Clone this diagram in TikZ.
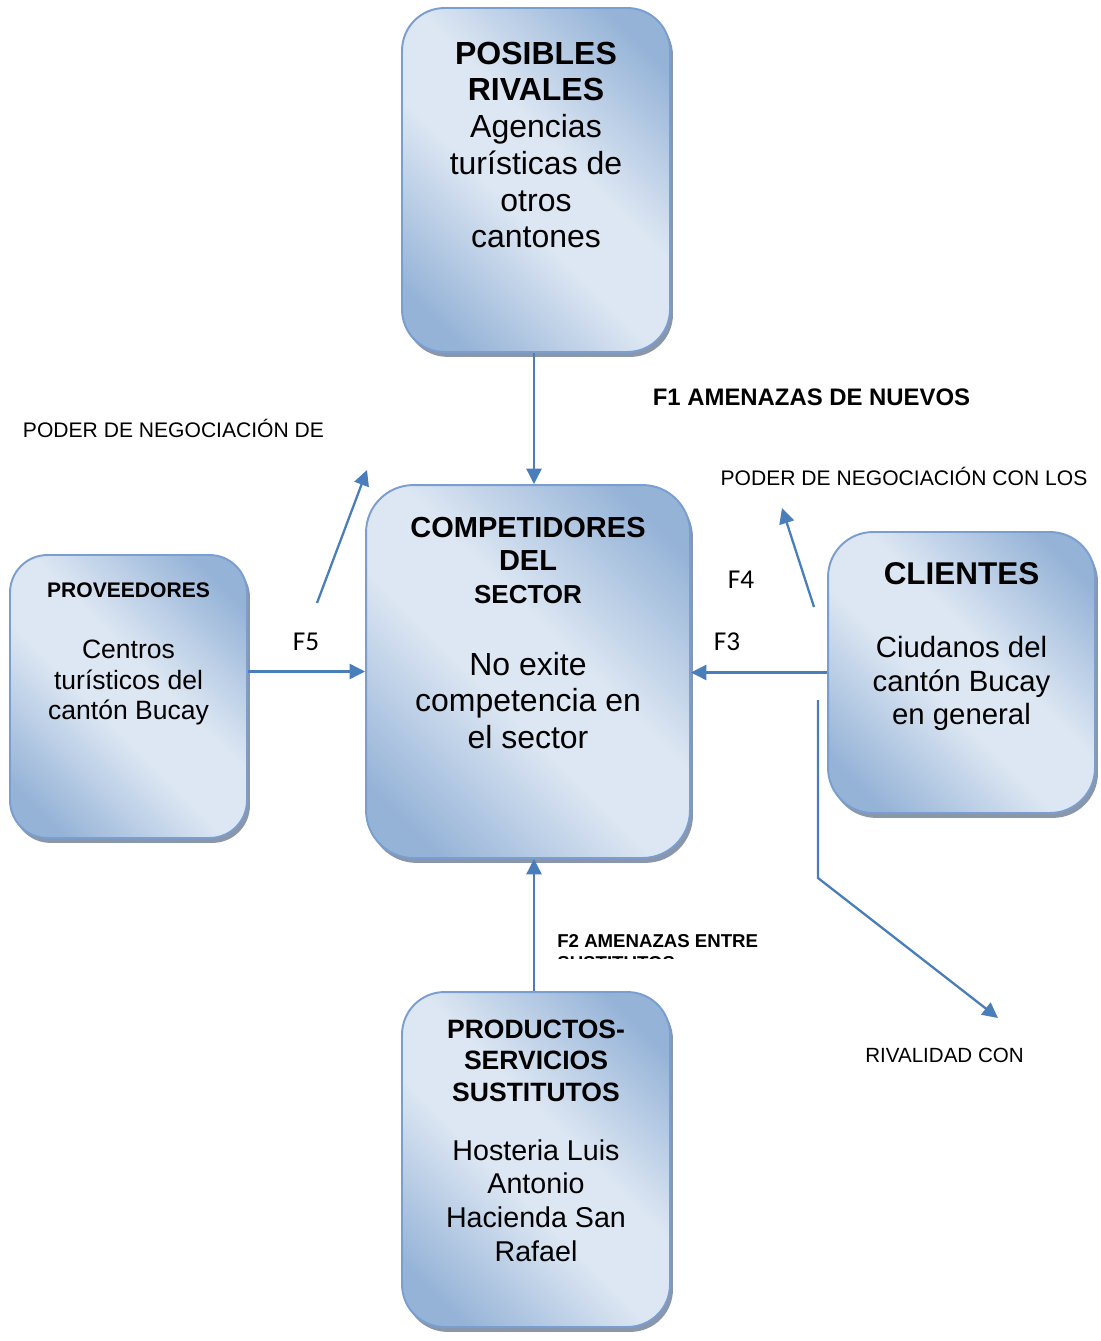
\documentclass[tikz,border=0pt]{standalone}
\usepackage{fontspec}
\setmainfont{Liberation Sans}
\newfontfamily\calibri{Carlito}
\usetikzlibrary{positioning, shadows, arrows.meta}

\definecolor{cajaoscura}{RGB}{149,179,215}
\definecolor{cajaclara}{RGB}{221,231,243}
\definecolor{borde}{RGB}{122,158,208}
\definecolor{sombra}{RGB}{138,150,170}
\definecolor{flecha}{RGB}{74,126,187}

\pgfdeclarehorizontalshading{degradado}{100bp}{color(0bp)=(cajaoscura); color(22bp)=(cajaoscura); color(44bp)=(cajaclara); color(56bp)=(cajaclara); color(78bp)=(cajaoscura); color(100bp)=(cajaoscura)}

\tikzstyle{caja} = [rectangle, rounded corners=0.85cm, draw=borde, line width=1.1pt, shading=degradado, shading angle=45, drop shadow={shadow xshift=1.7pt, shadow yshift=-2.8pt, fill=sombra, opacity=1}]
\tikzstyle{texto} = [inner sep=0pt, align=center]
\tikzstyle{etiqueta} = [inner sep=0pt, font=\fontsize{12}{14}\selectfont]
\tikzstyle{fuerza} = [inner sep=0pt, font=\calibri\fontsize{15.5}{18}\selectfont]
\tikzstyle{arrow} = [line width=1.3pt, draw=flecha, -{Triangle[length=8.8pt, width=8.6pt]}]

\begin{document}
\begin{tikzpicture}[x=0.02cm, y=-0.02cm]
\useasboundingbox (0,0) rectangle (1100,1341);

%% NODES

\node (rivales) [caja, minimum width=5.36cm, minimum height=6.88cm] at (536,180) {};
\node (rivales-titulo) [texto, below=0.70cm of rivales.north, font=\bfseries\fontsize{18.2}{20.5}\selectfont] {POSIBLES\\RIVALES};
\node (rivales-cuerpo) [texto, below=0.26cm of rivales-titulo, font=\fontsize{18.2}{20.8}\selectfont] {Agencias\\turísticas de\\otros\\cantones};

\node (comp) [caja, rounded corners=0.95cm, minimum width=6.48cm, minimum height=7.46cm] at (528,671.5) {};
\node (comp-titulo) [texto, below=0.65cm of comp.north, font=\bfseries\fontsize{16.5}{19}\selectfont] {COMPETIDORES\\DEL\\{\fontsize{14.8}{19}\selectfont SECTOR}};
\node (comp-cuerpo) [texto, below=0.94cm of comp-titulo, font=\fontsize{18.2}{20.8}\selectfont] {No exite\\competencia en\\el sector};

\node (proveedores) [caja, rounded corners=0.75cm, minimum width=4.74cm, minimum height=5.66cm] at (128.5,696.5) {};
\node (prov-titulo) [texto, below=0.56cm of proveedores.north, font=\bfseries\fontsize{12}{14}\selectfont] {PROVEEDORES};
\node (prov-cuerpo) [texto, below=0.84cm of prov-titulo, font=\fontsize{15.1}{17.4}\selectfont] {Centros\\turísticos del\\cantón Bucay};

\node (clientes) [caja, rounded corners=0.9cm, minimum width=5.34cm, minimum height=5.62cm] at (961.5,672.5) {};
\node (cli-titulo) [texto, below=0.62cm of clientes.north, font=\bfseries\fontsize{17.9}{20}\selectfont] {CLIENTES};
\node (cli-cuerpo) [texto, below=1.02cm of cli-titulo, font=\fontsize{16.7}{19.1}\selectfont] {Ciudanos del\\cantón Bucay\\en general};

\node (sustitutos) [caja, minimum width=5.36cm, minimum height=6.7cm] at (536,1159.5) {};
\node (sust-titulo) [texto, below=0.57cm of sustitutos.north, font=\bfseries\fontsize{15.1}{17.9}\selectfont] {PRODUCTOS-\\SERVICIOS\\SUSTITUTOS};
\node (sust-cuerpo) [texto, below=0.74cm of sust-titulo, font=\fontsize{16.3}{19.2}\selectfont] {Hosteria Luis\\Antonio\\Hacienda San\\Rafael};

\node (poder-prov) [etiqueta] at (173.5,428) {PODER DE NEGOCIACIÓN DE};
\node (f1) [etiqueta, font=\bfseries\fontsize{13.6}{15}\selectfont] at (811.5,397) {F1 AMENAZAS DE NUEVOS};
\node (poder-cli) [etiqueta] at (904,476) {PODER DE NEGOCIACIÓN CON LOS};
\node (f4) [fuerza] at (741,580) {F4};
\node (f3) [fuerza] at (727,642) {F3};
\node (f5) [fuerza] at (306,642) {F5};
\node (rivalidad) [etiqueta, font=\fontsize{11.7}{14}\selectfont] at (944.5,1055) {RIVALIDAD CON};
\begin{scope}
\clip (540,925) rectangle (800,958);
\node (f2) [etiqueta, align=left, anchor=north west, font=\bfseries\fontsize{10.6}{12.2}\selectfont] at (557,934.3) {F2 AMENAZAS ENTRE\\SUSTITUTOS};
\end{scope}

\coordinate (f5-ini) at (317,603);
\coordinate (f5-fin) at (367,470);
\coordinate (f4-ini) at (814,607);
\coordinate (f4-fin) at (782,508);
\coordinate (riv-ini) at (818,700);
\coordinate (riv-codo) at (818,878);
\coordinate (riv-fin) at (998,1018);

%% ARROWS

\draw [arrow] ([xshift=-0.04cm]rivales.south) -- ([xshift=-0.04cm]rivales.south |- comp.north);
\draw [arrow] ([xshift=-0.04cm]sustitutos.north) -- ([xshift=-0.04cm]sustitutos.north |- comp.south);
\draw [arrow] (proveedores.east |- comp.west) -- (comp.west);
\draw [arrow] (clientes.west) -- (clientes.west -| comp.east);
\draw [arrow] (f5-ini) -- (f5-fin);
\draw [arrow] (f4-ini) -- (f4-fin);
\draw [arrow] (riv-ini) -- (riv-codo) -- (riv-fin);

\end{tikzpicture}
\end{document}
